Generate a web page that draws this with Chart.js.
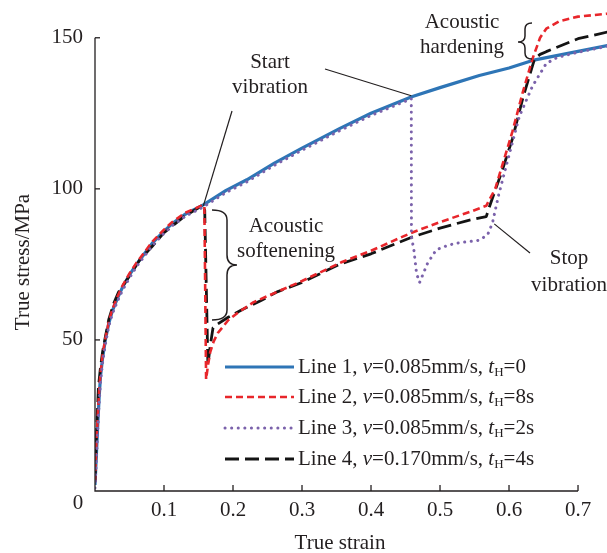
<!DOCTYPE html>
<html><head><meta charset="utf-8">
<script src="https://cdn.jsdelivr.net/npm/chart.js@4.4.1/dist/chart.umd.min.js"></script>
<style>html,body{margin:0;padding:0;background:#fff;}canvas{display:block;}</style>
</head><body>
<canvas id="c" width="607" height="553"></canvas>
<script>
// ---- data ----
const line1Strain = [0, 0.002, 0.004, 0.006, 0.008, 0.011, 0.015, 0.02, 0.025, 0.032, 0.04, 0.05, 0.06, 0.07, 0.083, 0.1, 0.112, 0.13, 0.157, 0.19, 0.22, 0.26, 0.3, 0.355, 0.4, 0.459, 0.5, 0.557, 0.6, 0.634, 0.7, 0.745];
const line1Stress = [2, 12, 22, 31, 38, 44, 50, 55.5, 59.5, 63.5, 67.5, 71.5, 75, 78, 82, 86, 88.5, 91.5, 94.7, 99.5, 103, 108.5, 113.5, 120, 125, 130.5, 133.5, 137.5, 140, 142.5, 145.5, 147.5];

const line2Strain = [0, 0.002, 0.004, 0.006, 0.008, 0.011, 0.015, 0.02, 0.025, 0.032, 0.04, 0.05, 0.06, 0.07, 0.083, 0.1, 0.112, 0.13, 0.157, 0.1585, 0.161, 0.164, 0.167, 0.172, 0.178, 0.193, 0.207, 0.23, 0.265, 0.3, 0.358, 0.4, 0.459, 0.5, 0.545, 0.567, 0.58, 0.605, 0.62, 0.634, 0.645, 0.654, 0.673, 0.7, 0.745];
const line2Stress = [3, 16, 25, 33, 39, 45, 50.5, 56, 60, 64, 68, 72, 75.5, 78.5, 82.5, 86.5, 89, 92, 94.7, 94.2, 37, 42, 46, 49.5, 52.3, 56.5, 59, 62.5, 66, 69.5, 75.8, 79.5, 85.5, 89, 92.5, 94.4, 100, 119, 132, 143, 150, 153, 155.5, 157, 158];

const line3Strain = [0, 0.002, 0.004, 0.006, 0.008, 0.011, 0.015, 0.02, 0.025, 0.032, 0.04, 0.05, 0.06, 0.07, 0.083, 0.1, 0.112, 0.13, 0.157, 0.19, 0.22, 0.26, 0.3, 0.355, 0.4, 0.4584, 0.4586, 0.462, 0.466, 0.4704, 0.474, 0.482, 0.4945, 0.51, 0.523, 0.557, 0.569, 0.576, 0.585, 0.596, 0.615, 0.634, 0.654, 0.67, 0.7, 0.745];
const line3Stress = [1, 10, 20, 29, 36, 42.5, 48.5, 54.5, 58.5, 62.5, 66.5, 70.5, 74.2, 77.2, 81.2, 85.3, 87.8, 90.8, 94, 98.8, 102.3, 107.8, 112.8, 119.3, 124.3, 129.8, 84, 80, 72, 69, 71, 75.4, 79.8, 81.2, 82, 83, 84.8, 88.7, 98, 107.6, 124, 134, 141.5, 143.5, 145.2, 147.3];

const line4Strain = [0, 0.002, 0.005, 0.008, 0.011, 0.015, 0.02, 0.027, 0.034, 0.048, 0.065, 0.083, 0.1, 0.13, 0.157, 0.159, 0.1636, 0.167, 0.171, 0.178, 0.193, 0.213, 0.24, 0.265, 0.3, 0.354, 0.4, 0.459, 0.5, 0.54, 0.567, 0.5715, 0.59, 0.605, 0.62, 0.637, 0.645, 0.654, 0.7, 0.745];
const line4Stress = [3, 18, 34.5, 41, 46, 51, 56.8, 62, 65.8, 70.5, 76.5, 81, 85.5, 91, 94.7, 93, 41.7, 48, 54, 55.3, 57.5, 60, 63, 66, 69, 75, 78.5, 84, 87, 89.5, 90.8, 94, 106, 116.6, 130, 143, 144.5, 145.4, 149.7, 152];

const xTicks = [0.1, 0.2, 0.3, 0.4, 0.5, 0.6, 0.7];
const yTicks = [50, 100, 150];
const seriesNames = ['Line 1', 'Line 2', 'Line 3', 'Line 4'];
const seriesSpeed = ['0.085', '0.085', '0.085', '0.170'];
const seriesHold = ['0', '8s', '2s', '4s'];

// ---- styles ----
const FONT = '"Liberation Serif", "Times New Roman", serif';
const TXT = '#231f20';
const colors = ['#2e75b6', '#e8262b', '#7b62ab', '#141414'];
const dashes = [[], [7, 4], [0.1, 6.5], [14, 6]];
const widths = [3.2, 2.6, 3, 2.8];
const caps = ['butt', 'butt', 'round', 'butt'];
const orders = [3, 1, 0, 2];

function pts(xs, ys) { return xs.map((v, i) => ({ x: v, y: ys[i] })); }
const allData = [pts(line1Strain, line1Stress), pts(line2Strain, line2Stress), pts(line3Strain, line3Stress), pts(line4Strain, line4Stress)];

function brace(ctx, sx, yTop, yBot, yMid, dir, tipDx, ptDx, r) {
  ctx.beginPath();
  ctx.moveTo(sx - dir * tipDx, yTop);
  ctx.quadraticCurveTo(sx, yTop, sx, yTop + r);
  ctx.lineTo(sx, yMid - r);
  ctx.quadraticCurveTo(sx, yMid, sx + dir * ptDx, yMid);
  ctx.quadraticCurveTo(sx, yMid, sx, yMid + r);
  ctx.lineTo(sx, yBot - r);
  ctx.quadraticCurveTo(sx, yBot, sx - dir * tipDx, yBot);
  ctx.stroke();
}

function richText(ctx, x, y, parts) {
  let cx = x;
  parts.forEach(p => {
    ctx.font = (p.it ? 'italic ' : '') + (p.sub ? '13px ' : '21px ') + FONT;
    ctx.fillText(p.t, cx, y + (p.sub ? 6 : 0));
    cx += ctx.measureText(p.t).width;
  });
}

const overlay = {
  id: 'overlay',
  afterDatasetsDraw(chart) {
    const ctx = chart.ctx;
    const xs = chart.scales.x, ys = chart.scales.y;
    const X = v => xs.getPixelForValue(v), Y = v => ys.getPixelForValue(v);
    ctx.save();
    ctx.strokeStyle = TXT; ctx.fillStyle = TXT; ctx.lineWidth = 1.3; ctx.setLineDash([]);
    // axes
    ctx.beginPath();
    ctx.moveTo(X(0), Y(150)); ctx.lineTo(X(0), Y(0)); ctx.lineTo(X(0.7), Y(0));
    ctx.stroke();
    yTicks.forEach(v => { ctx.beginPath(); ctx.moveTo(X(0), Y(v)); ctx.lineTo(X(0) + 5, Y(v)); ctx.stroke(); });
    xTicks.forEach(v => { ctx.beginPath(); ctx.moveTo(X(v), Y(0)); ctx.lineTo(X(v), Y(0) - 6); ctx.stroke(); });
    // tick labels
    ctx.font = '21px ' + FONT;
    ctx.textBaseline = 'middle';
    ctx.textAlign = 'right';
    yTicks.forEach(v => ctx.fillText(String(v), X(0) - 12, Y(v)));
    ctx.textAlign = 'center';
    ctx.fillText('0', X(0) - 17, Y(0) + 12);
    xTicks.forEach(v => ctx.fillText(v.toFixed(1), X(v), Y(0) + 19));
    // axis titles
    ctx.fillText('True strain', 340, 543);
    ctx.save();
    ctx.translate(23, 262); ctx.rotate(-Math.PI / 2);
    ctx.fillText('True stress/MPa', 0, 0);
    ctx.restore();
    // annotations
    ctx.fillText('Start', 270, 62);
    ctx.fillText('vibration', 270, 87);
    ctx.fillText('Acoustic', 462, 22);
    ctx.fillText('hardening', 462, 47);
    ctx.fillText('Acoustic', 286, 226);
    ctx.fillText('softenening', 286, 251);
    ctx.fillText('Stop', 569, 258);
    ctx.fillText('vibration', 569, 285);
    ctx.lineWidth = 1.2;
    ctx.beginPath(); ctx.moveTo(232, 111); ctx.lineTo(X(0.157), Y(94.7) + 1); ctx.stroke();
    ctx.beginPath(); ctx.moveTo(325, 69); ctx.lineTo(X(0.4584), Y(130.8)); ctx.stroke();
    ctx.beginPath(); ctx.moveTo(X(0.5786), Y(88.4)); ctx.lineTo(530, 253); ctx.stroke();
    ctx.lineWidth = 1.5;
    brace(ctx, 227, 210, 320, 265, 1, 15, 10, 10);
    brace(ctx, 525, 23, 59, 42, -1, 7, 7, 6);
    // legend
    const ly = [367, 397, 428, 459];
    ly.forEach((yy, i) => {
      ctx.save();
      ctx.strokeStyle = colors[i]; ctx.lineWidth = widths[i]; ctx.lineCap = caps[i];
      ctx.setLineDash(dashes[i]);
      ctx.beginPath(); ctx.moveTo(225, yy); ctx.lineTo(294, yy); ctx.stroke();
      ctx.restore();
      ctx.textAlign = 'left'; ctx.fillStyle = TXT;
      richText(ctx, 298, yy, [
        { t: seriesNames[i] + ', ' }, { t: 'v', it: true }, { t: '=' + seriesSpeed[i] + 'mm/s, ' },
        { t: 't', it: true }, { t: 'H', sub: true }, { t: '=' + seriesHold[i] }
      ]);
    });
    ctx.restore();
  }
};

new Chart(document.getElementById('c'), {
  type: 'line',
  data: {
    datasets: allData.map((d, i) => ({
      label: seriesNames[i], data: d, borderColor: colors[i], backgroundColor: colors[i],
      borderWidth: widths[i], borderDash: dashes[i], borderCapStyle: caps[i], borderJoinStyle: 'round',
      pointRadius: 0, tension: 0, fill: false, order: orders[i]
    }))
  },
  options: {
    responsive: false, animation: false, devicePixelRatio: 1,
    layout: { padding: { left: 95, right: 0, top: 0, bottom: 62 } },
    scales: {
      x: { type: 'linear', min: 0, max: 0.742, display: false },
      y: { type: 'linear', min: 0, max: 162.5, display: false }
    },
    plugins: { legend: { display: false }, tooltip: { enabled: false } }
  },
  plugins: [overlay]
});
</script>
</body></html>
